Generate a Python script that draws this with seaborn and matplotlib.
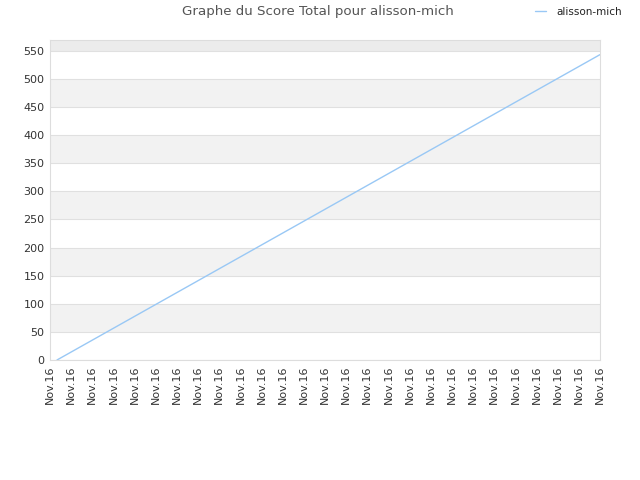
import matplotlib
matplotlib.use("Agg")
import matplotlib.pyplot as plt
import seaborn as sns
import pandas as pd

title = "Graphe du Score Total pour alisson-mich"
series_name = "alisson-mich"
tick_labels = ["Nov.16"] * 27
time_pos = [0.33, 26.0]
scores = [0, 543]
y_ticks = list(range(0, 551, 50))

sns.set_theme(style="white")
plt.rcParams['font.family'] = ['DejaVu Sans']

fig = plt.figure(figsize=(6.4, 4.8), dpi=100)
ax = fig.add_axes([50/640, 120/480, 550/640, 320/480])

ymax = 569
# alternating bands
for i, lo in enumerate(range(0, 600, 50)):
    hi = min(lo + 50, ymax)
    if lo >= ymax:
        break
    if i % 2 == 1:
        col = "#ececec" if lo >= 550 else "#f2f2f2"
        ax.axhspan(lo, hi, color=col, zorder=0, lw=0)

for y in y_ticks:
    ax.axhline(y, color="#e0e0e0", lw=0.8, zorder=0.5)

df = pd.DataFrame({"t": time_pos, "score": scores, "who": series_name})
sns.lineplot(data=df, x="t", y="score", hue="who", palette=["#99c8f5"],
             lw=1, ax=ax, legend=False, zorder=2)

ax.set_xlim(0, 26)
ax.set_ylim(0, ymax)
ax.set_xticks(range(len(tick_labels)))
ax.set_xticklabels(tick_labels, rotation=90, fontsize=8, color="#333333")
ax.set_yticks(y_ticks)
ax.set_yticklabels([str(v) for v in y_ticks], fontsize=8, color="#333333")
ax.tick_params(length=0, pad=4)
ax.set_xlabel("")
ax.set_ylabel("")
for s in ax.spines.values():
    s.set_color("#dddddd")
    s.set_linewidth(0.8)

fig.text(318/640, 1 - 12/480, title, ha="center", va="center", fontsize=9.6, color="#555555")
from matplotlib.lines import Line2D
h = Line2D([0], [0], color="#99c8f5", lw=1)
fig.legend([h], [series_name], loc="center left", bbox_to_anchor=(526/640, 1 - 12/480),
           frameon=False, fontsize=7.5, handlelength=1.0, handletextpad=1.0,
           labelcolor="#222222")

fig.savefig("out.png", dpi=100)
